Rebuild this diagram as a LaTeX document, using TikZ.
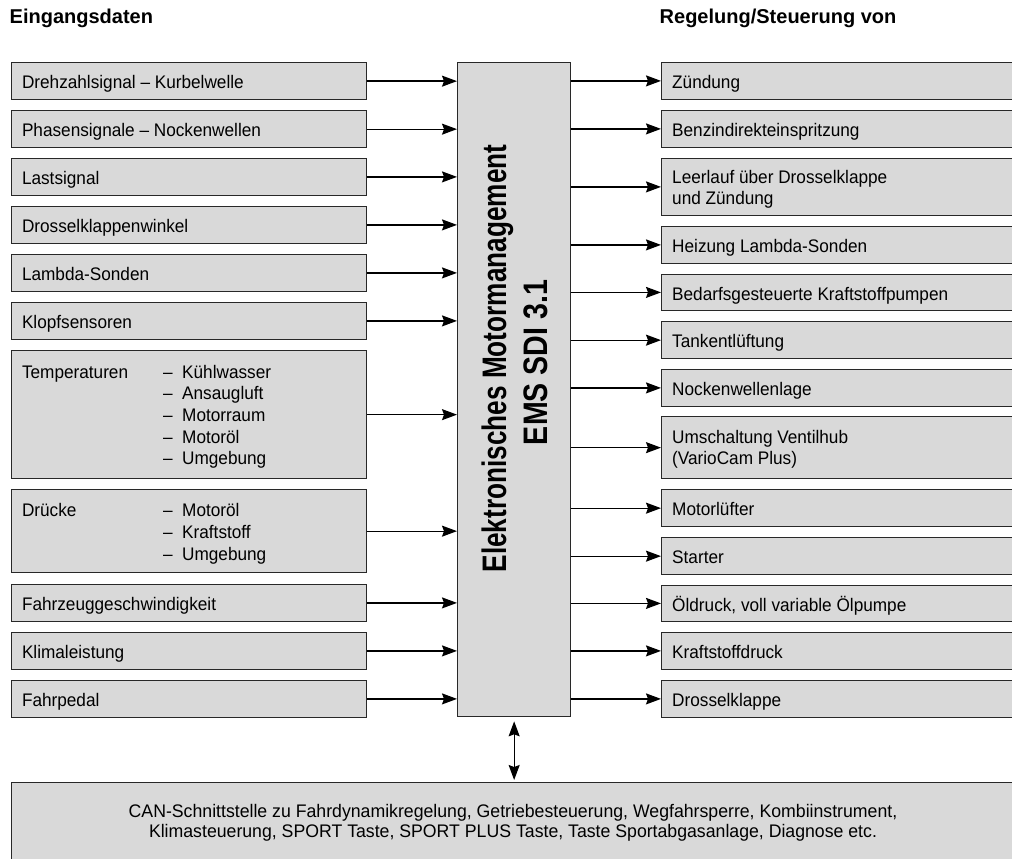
\documentclass[tikz,border=0pt]{standalone}
\usepackage{fontspec}
\setmainfont{Liberation Sans}[FakeStretch=0.945]
\newfontfamily\headfont{Liberation Sans}
\newfontfamily\canfont{Liberation Sans}[FakeStretch=0.972]
\newfontfamily\emsAfont{Liberation Sans}[FakeStretch=0.77]
\newfontfamily\emsBfont{Liberation Sans}[FakeStretch=0.84]
\usetikzlibrary{arrows.meta}
\definecolor{boxgray}{RGB}{217,217,217}
\definecolor{edge}{RGB}{40,40,40}
\begin{document}
\begin{tikzpicture}[x=1pt,y=-1pt,
  box/.style={draw=edge, line width=1.3pt, fill=boxgray, inner sep=0pt, anchor=north west},
  lbl/.style={inner sep=0pt, anchor=base west, font=\fontsize{18.2}{21.7}\selectfont},
  rlbl/.style={inner sep=0pt, anchor=base west, font=\fontsize{18.2}{20.7}\selectfont},
  hdr/.style={inner sep=0pt, anchor=base west, font=\headfont\bfseries\fontsize{20}{24}\selectfont},
  tip/.tip={Stealth[length=15pt,width=11pt,inset=2pt]},
  arr/.style={line width=1.3pt, -tip},
  darr/.style={line width=1.3pt, tip-tip},
]
\useasboundingbox (0,0) rectangle (1012,859);
\clip (0,0) rectangle (1012,859);

% headers
\node[hdr] (h1) at (9.5,23.3) {Eingangsdaten};
\node[hdr] (h2) at (659.5,23.3) {Regelung/Steuerung von};

% central box
\node[box, minimum width=113pt, minimum height=654pt] (ems) at (457,62) {};
\node[rotate=90, anchor=base, inner sep=0pt, font=\emsAfont\bfseries\fontsize{34}{41}\selectfont] (emsA) at (506,358.5) {Elektronisches Motormanagement};
\node[rotate=90, anchor=base, inner sep=0pt, font=\emsBfont\bfseries\fontsize{34}{41}\selectfont] (emsB) at (547,362.5) {EMS SDI 3.1};

% left boxes
\node[box, minimum width=354.5pt, minimum height=37pt] (l1) at (11,62) {};
\node[box, minimum width=354.5pt, minimum height=37pt] (l2) at (11,110) {};
\node[box, minimum width=354.5pt, minimum height=36.5pt] (l3) at (11,158) {};
\node[box, minimum width=354.5pt, minimum height=36.5pt] (l4) at (11,206) {};
\node[box, minimum width=354.5pt, minimum height=36.5pt] (l5) at (11,254) {};
\node[box, minimum width=354.5pt, minimum height=36.5pt] (l6) at (11,302) {};
\node[box, minimum width=354.5pt, minimum height=128pt] (l7) at (11,350) {};
\node[box, minimum width=354.5pt, minimum height=83pt] (l8) at (11,489) {};
\node[box, minimum width=354.5pt, minimum height=36.5pt] (l9) at (11,584) {};
\node[box, minimum width=354.5pt, minimum height=36.5pt] (l10) at (11,632) {};
\node[box, minimum width=354.5pt, minimum height=36.5pt] (l11) at (11,680) {};

\node[lbl] (t1) at (21.8,88.5) {Drehzahlsignal – Kurbelwelle};
\node[lbl] (t2) at (21.8,136.5) {Phasensignale – Nockenwellen};
\node[lbl] (t3) at (21.8,184.5) {Lastsignal};
\node[lbl] (t4) at (21.8,232.5) {Drosselklappenwinkel};
\node[lbl] (t5) at (21.8,280.5) {Lambda-Sonden};
\node[lbl] (t6) at (21.8,328.5) {Klopfsensoren};
\node[lbl] (t7) at (21.8,378) {\begin{tabular}[t]{@{}p{141.2pt}@{}l@{}}
Temperaturen & \makebox[19pt][l]{–}Kühlwasser\\
 & \makebox[19pt][l]{–}Ansaugluft\\
 & \makebox[19pt][l]{–}Motorraum\\
 & \makebox[19pt][l]{–}Motoröl\\
 & \makebox[19pt][l]{–}Umgebung
\end{tabular}};
\node[lbl] (t8) at (21.8,516.7) {\begin{tabular}[t]{@{}p{141.2pt}@{}l@{}}
Drücke & \makebox[19pt][l]{–}Motoröl\\
 & \makebox[19pt][l]{–}Kraftstoff\\
 & \makebox[19pt][l]{–}Umgebung
\end{tabular}};
\node[lbl] (t9) at (21.8,610.5) {Fahrzeuggeschwindigkeit};
\node[lbl] (t10) at (21.8,658.5) {Klimaleistung};
\node[lbl] (t11) at (21.8,706.5) {Fahrpedal};

\foreach \i in {1,...,11} {
  \draw[arr] (l\i.east) -- (l\i.east -| ems.west);
}

% right boxes
\node[box, minimum width=360pt, minimum height=36.5pt] (r1) at (661,62) {};
\node[box, minimum width=360pt, minimum height=36.5pt] (r2) at (661,110) {};
\node[box, minimum width=360pt, minimum height=57.5pt] (r3) at (661,157.5) {};
\node[box, minimum width=360pt, minimum height=36.5pt] (r4) at (661,226) {};
\node[box, minimum width=360pt, minimum height=36.5pt] (r5) at (661,273.5) {};
\node[box, minimum width=360pt, minimum height=37pt] (r6) at (661,321) {};
\node[box, minimum width=360pt, minimum height=36.5pt] (r7) at (661,369) {};
\node[box, minimum width=360pt, minimum height=62pt] (r8) at (661,416) {};
\node[box, minimum width=360pt, minimum height=37pt] (r9) at (661,489) {};
\node[box, minimum width=360pt, minimum height=37pt] (r10) at (661,537) {};
\node[box, minimum width=360pt, minimum height=36.5pt] (r11) at (661,584.5) {};
\node[box, minimum width=360pt, minimum height=36.5pt] (r12) at (661,632) {};
\node[box, minimum width=360pt, minimum height=36.5pt] (r13) at (661,680) {};

\node[rlbl] (s1) at (672,88.5) {Zündung};
\node[rlbl] (s2) at (672,136.5) {Benzindirekteinspritzung};
\node[rlbl] (s3) at (672,183.3) {\begin{tabular}[t]{@{}l@{}}Leerlauf über Drosselklappe\\und Zündung\end{tabular}};
\node[rlbl] (s4) at (672,252.5) {Heizung Lambda-Sonden};
\node[rlbl] (s5) at (672,300) {Bedarfsgesteuerte Kraftstoffpumpen};
\node[rlbl] (s6) at (672,347.5) {Tankentlüftung};
\node[rlbl] (s7) at (672,395.5) {Nockenwellenlage};
\node[rlbl] (s8) at (672,443.3) {\begin{tabular}[t]{@{}l@{}}Umschaltung Ventilhub\\(VarioCam Plus)\end{tabular}};
\node[rlbl] (s9) at (672,515.5) {Motorlüfter};
\node[rlbl] (s10) at (672,563.5) {Starter};
\node[rlbl] (s11) at (672,611) {Öldruck, voll variable Ölpumpe};
\node[rlbl] (s12) at (672,658.5) {Kraftstoffdruck};
\node[rlbl] (s13) at (672,706.5) {Drosselklappe};

\foreach \i in {1,...,13} {
  \draw[arr] (ems.east |- r\i.west) -- (r\i.west);
}

% bottom CAN box
\node[box, minimum width=1010pt, minimum height=100pt] (can) at (11,782) {};
\node[inner sep=0pt, anchor=base, font=\canfont\fontsize{18.2}{20}\selectfont] (cant) at (513,817.3) {\begin{tabular}[t]{@{}c@{}}CAN-Schnittstelle zu Fahrdynamikregelung, Getriebesteuerung, Wegfahrsperre, Kombiinstrument,\\Klimasteuerung, SPORT Taste, SPORT PLUS Taste, Taste Sportabgasanlage, Diagnose etc.\end{tabular}};

\draw[darr, shorten <=4pt, shorten >=2pt] (ems.south) -- (ems.south |- can.north);
\end{tikzpicture}
\end{document}
